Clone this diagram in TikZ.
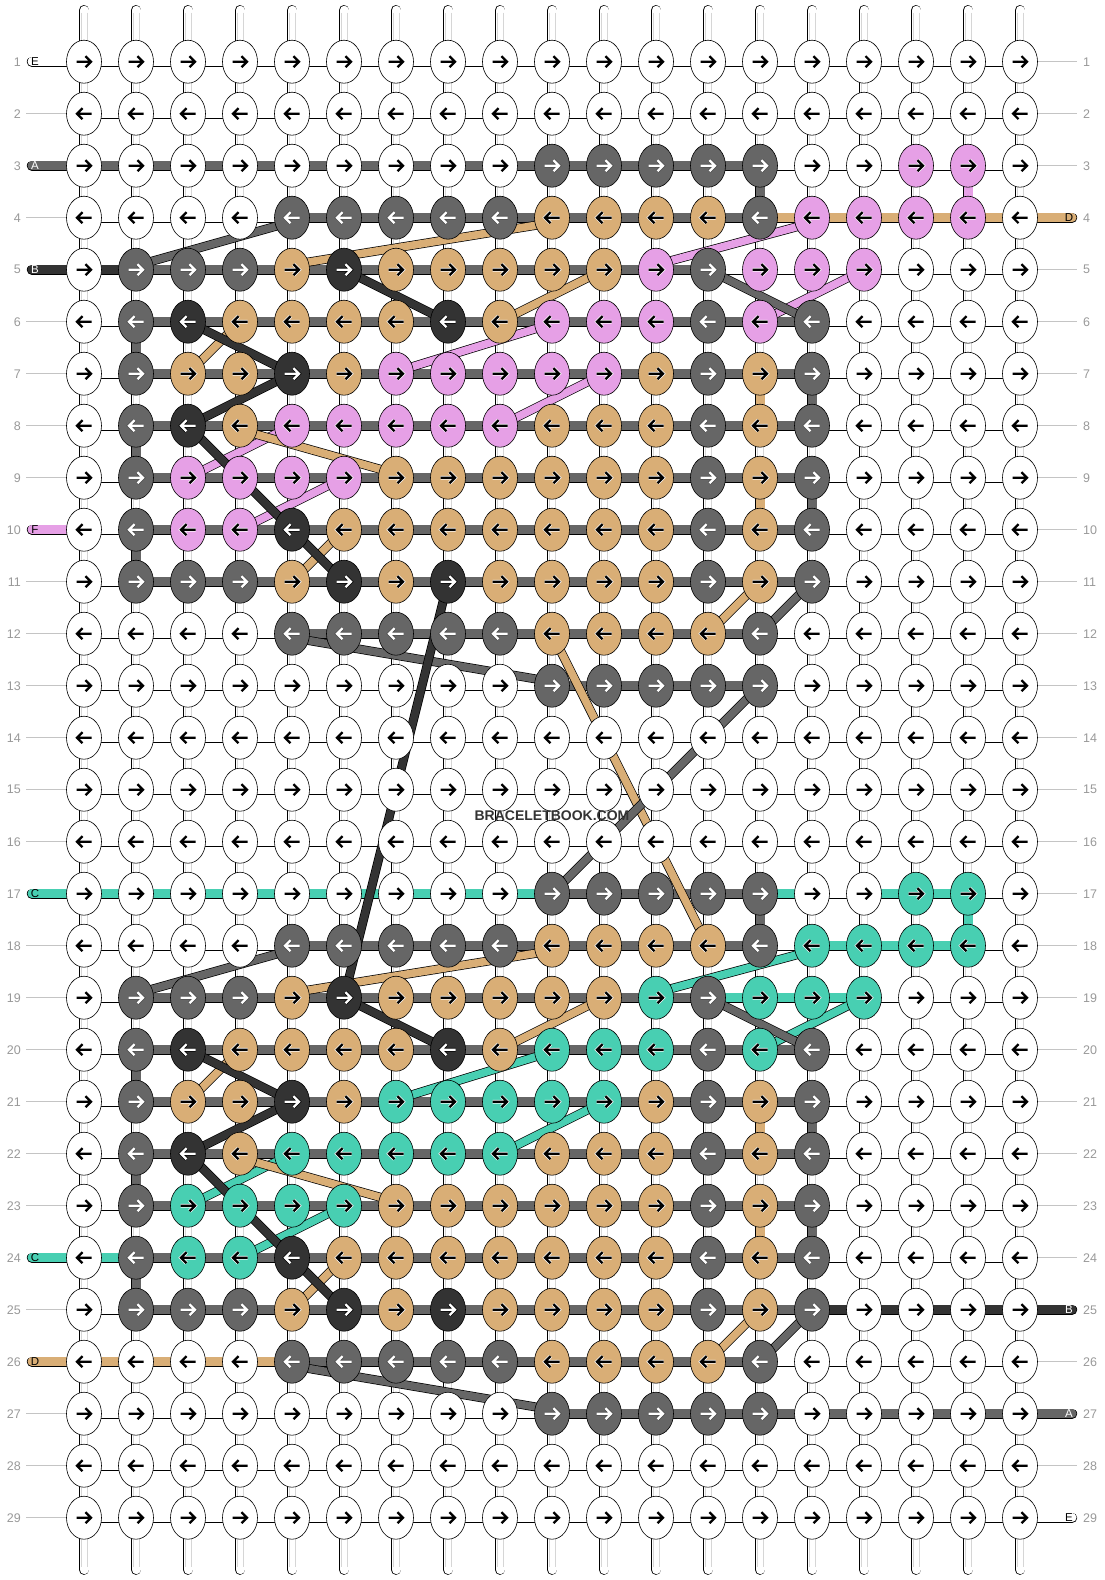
\documentclass[tikz,border=0pt]{standalone}
\usepackage{fontspec}
\setmainfont{Liberation Sans}
\usepackage{tikz}
\usetikzlibrary{calc,shapes.geometric}

\pgfdeclarelayer{strings}
\pgfsetlayers{strings,main}

\definecolor{cG}{HTML}{666666}
\definecolor{cK}{HTML}{333333}
\definecolor{cT}{HTML}{D9AE76}
\definecolor{cP}{HTML}{E6A0E6}
\definecolor{cC}{HTML}{48CFB2}
\definecolor{numgray}{HTML}{999999}
\definecolor{guidegray}{HTML}{C4C4C4}

\tikzset{
  ink/.store in=\knotink, ink=black,
  halo/.store in=\knothalo, halo=white,
  knot/.style={ellipse, draw=black, line width=0.6pt, inner sep=0pt,
    minimum width=35pt, minimum height=43pt},
  arrR/.style={path picture={
    \draw[draw=\knothalo, line width=3.6pt, shift={(path picture bounding box.center)}]
      (-7.5,0) -- (6.5,0) (1.5,-5.5) -- (7,0) -- (1.5,5.5);
    \draw[draw=\knotink, line width=2.2pt, shift={(path picture bounding box.center)}]
      (-7.5,0) -- (6.5,0) (1.5,-5.5) -- (7,0) -- (1.5,5.5);}},
  arrL/.style={path picture={
    \draw[draw=\knothalo, line width=3.6pt, shift={(path picture bounding box.center)}]
      (7.5,0) -- (-6.5,0) (-1.5,-5.5) -- (-7,0) -- (-1.5,5.5);
    \draw[draw=\knotink, line width=2.2pt, shift={(path picture bounding box.center)}]
      (7.5,0) -- (-6.5,0) (-1.5,-5.5) -- (-7,0) -- (-1.5,5.5);}},
  kW/.style={knot, fill=white, ink=black, halo=white},
  kG/.style={knot, fill=cG, ink=white, halo=black!70},
  kK/.style={knot, fill=cK, ink=white, halo=black},
  kT/.style={knot, fill=cT, ink=black, halo=white},
  kP/.style={knot, fill=cP, ink=black, halo=white},
  kC/.style={knot, fill=cC, ink=black, halo=white},
  tube/.style={draw=black, line width=0.7pt, double=#1, double distance=9pt, line cap=round},
  strand/.style={draw=black, line width=0.7pt, double=#1, double distance=7.6pt},
  rownum/.style={text=numgray, font=\fontsize{12.5}{12.5}\selectfont, inner sep=0pt},
  endtag/.style={font=\fontsize{11.5}{11.5}\selectfont, inner sep=0pt},
}

\begin{document}
\begin{tikzpicture}[x=1pt,y=-1pt]
\useasboundingbox (0,0) rectangle (1104,1580);

% knots, row by row (odd rows right, even rows left)
\foreach \codes [count=\r] in {
  {W,W,W,W,W,W,W,W,W,W,W,W,W,W,W,W,W,W,W},
  {W,W,W,W,W,W,W,W,W,W,W,W,W,W,W,W,W,W,W},
  {W,W,W,W,W,W,W,W,W,G,G,G,G,G,W,W,P,P,W},
  {W,W,W,W,G,G,G,G,G,T,T,T,T,G,P,P,P,P,W},
  {W,G,G,G,T,K,T,T,T,T,T,P,G,P,P,P,W,W,W},
  {W,G,K,T,T,T,T,K,T,P,P,P,G,P,G,W,W,W,W},
  {W,G,T,T,K,T,P,P,P,P,P,T,G,T,G,W,W,W,W},
  {W,G,K,T,P,P,P,P,P,T,T,T,G,T,G,W,W,W,W},
  {W,G,P,P,P,P,T,T,T,T,T,T,G,T,G,W,W,W,W},
  {W,G,P,P,K,T,T,T,T,T,T,T,G,T,G,W,W,W,W},
  {W,G,G,G,T,K,T,K,T,T,T,T,G,T,G,W,W,W,W},
  {W,W,W,W,G,G,G,G,G,T,T,T,T,G,W,W,W,W,W},
  {W,W,W,W,W,W,W,W,W,G,G,G,G,G,W,W,W,W,W},
  {W,W,W,W,W,W,W,W,W,W,W,W,W,W,W,W,W,W,W},
  {W,W,W,W,W,W,W,W,W,W,W,W,W,W,W,W,W,W,W},
  {W,W,W,W,W,W,W,W,W,W,W,W,W,W,W,W,W,W,W},
  {W,W,W,W,W,W,W,W,W,G,G,G,G,G,W,W,C,C,W},
  {W,W,W,W,G,G,G,G,G,T,T,T,T,G,C,C,C,C,W},
  {W,G,G,G,T,K,T,T,T,T,T,C,G,C,C,C,W,W,W},
  {W,G,K,T,T,T,T,K,T,C,C,C,G,C,G,W,W,W,W},
  {W,G,T,T,K,T,C,C,C,C,C,T,G,T,G,W,W,W,W},
  {W,G,K,T,C,C,C,C,C,T,T,T,G,T,G,W,W,W,W},
  {W,G,C,C,C,C,T,T,T,T,T,T,G,T,G,W,W,W,W},
  {W,G,C,C,K,T,T,T,T,T,T,T,G,T,G,W,W,W,W},
  {W,G,G,G,T,K,T,K,T,T,T,T,G,T,G,W,W,W,W},
  {W,W,W,W,G,G,G,G,G,T,T,T,T,G,W,W,W,W,W},
  {W,W,W,W,W,W,W,W,W,G,G,G,G,G,W,W,W,W,W},
  {W,W,W,W,W,W,W,W,W,W,W,W,W,W,W,W,W,W,W},
  {W,W,W,W,W,W,W,W,W,W,W,W,W,W,W,W,W,W,W}}{
  \ifodd\r \def\way{R}\else \def\way{L}\fi
  \foreach \c [count=\j] in \codes
    \node[k\c, arr\way] (k\r-\j) at ({32+52*\j},{9.7+52*\r}) {};
  \coordinate (k\r-0) at (32,{9.7+52*\r});
  \coordinate (k\r-20) at (1072,{9.7+52*\r});
}

\begin{pgfonlayer}{strings}
  \fill[white] (0,0) rectangle (1104,1580);
  % row numbers
  \foreach \r in {1,...,29}{
    \node[rownum, anchor=east] (n\r-l) at ($(k\r-0)+(-11,0)$) {\r};
    \node[rownum, anchor=west] (n\r-r) at ($(k\r-20)+(11,0)$) {\r};
  }
  \foreach \r in {2,4,6,7,8,9,11,12,13,14,15,16,18,19,20,21,22,23,25,27,28,29}
    \draw[guidegray, line width=0.8pt] ($(k\r-0)+(-6,0)$) -- (k\r-1.center);
  \foreach \r in {1,2,3,5,6,7,8,9,10,11,12,13,14,15,16,17,18,19,20,21,22,23,24,26,28}
    \draw[guidegray, line width=0.8pt] (k\r-19.center) -- ($(k\r-20)+(5,0)$);
  % warp strings
  \foreach \j in {1,...,19}{
    \draw[tube=white] ($(k1-\j.center)+(0,-51.5)$) -- ($(k29-\j.center)+(0,52)$);
    \draw[black!16, line width=0.45pt] ($(k1-\j.center)+(-2.8,-49)$) -- ($(k29-\j.center)+(-2.8,49)$)
      ($(k1-\j.center)+(2.8,-49)$) -- ($(k29-\j.center)+(2.8,49)$);
  }
  % weft rows
  \foreach \r in {1,...,29}
    \draw[tube=white, line cap=butt] (k\r-1.center) -- (k\r-19.center);
  \foreach \r/\a/\b/\col in {1/0/1/white, 3/0/14/cG, 4/5/14/cG, 4/14/20/cT,
      5/0/2/cK, 5/2/13/cG, 6/2/15/cG, 7/2/15/cG, 8/2/15/cG, 9/2/15/cG,
      10/0/1/cP, 10/2/15/cG, 11/2/15/cG, 12/5/14/cG, 13/10/14/cG,
      17/0/10/cC, 17/10/14/cG, 17/14/15/cC, 17/16/18/cC, 18/5/14/cG, 18/15/18/cC,
      19/2/13/cG, 19/13/16/cC, 20/2/15/cG, 21/2/15/cG, 22/2/15/cG, 23/2/15/cG,
      24/0/2/cC, 24/2/15/cG, 25/2/15/cG, 25/15/20/cK, 26/0/5/cT, 26/5/14/cG,
      27/10/20/cG, 29/19/20/white}
    \draw[tube=\col] (k\r-\a.center) -- (k\r-\b.center);
  \foreach \j/\a/\b/\col in {14/3/4/cG, 18/3/4/cP, 2/6/7/cG, 2/8/9/cG, 2/10/11/cG,
      14/7/8/cT, 14/9/10/cT, 15/7/8/cG, 15/9/10/cG,
      14/17/18/cG, 18/17/18/cC, 2/20/21/cG, 2/22/23/cG, 2/24/25/cG,
      14/21/22/cT, 14/23/24/cT, 15/21/22/cG, 15/23/24/cG}
    \draw[tube=\col] (k\a-\j.center) -- (k\b-\j.center);
  % string ends
  \foreach \r/\t/\ink in {1/E/black, 3/A/white, 5/B/white, 10/F/black, 17/C/black, 24/C/black, 26/D/black}
    \node[endtag, text=\ink] (e\r-l) at ($(k\r-0)+(3,0)$) {\t};
  \foreach \r/\t/\ink in {4/D/black, 25/B/white, 27/A/white, 29/E/black}
    \node[endtag, text=\ink] (e\r-r) at ($(k\r-20)+(-3,0)$) {\t};
  % strands between knots
  \foreach \s/\xc in {0/cP,14/cC}{
    \colorlet{cX}{\xc}
    \foreach \ra/\ca/\rb/\cb/\col/\off in {4/15/5/12/cX/5, 5/16/6/14/cX/0, 6/10/7/7/cX/2,
        7/11/8/9/cX/0, 8/5/9/3/cX/0, 9/6/10/4/cX/0,
        4/10/5/5/cT/5, 5/11/6/9/cT/0, 6/4/7/3/cT/0, 8/4/9/7/cT/4, 10/6/11/5/cT/0, 11/14/12/13/cT/0,
        4/5/5/2/cG/4, 5/13/6/15/cG/0, 11/15/12/14/cG/0, 12/5/13/10/cG/4,
        5/6/6/8/cK/0, 6/3/7/5/cK/0, 7/5/8/3/cK/0, 8/3/10/5/cK/0, 10/5/11/6/cK/0}{
      \pgfmathtruncatemacro\ru{\ra+\s}
      \pgfmathtruncatemacro\rv{\rb+\s}
      \draw[strand=\col] ($(k\ru-\ca.center)+(0,\off)$) -- ($(k\rv-\cb.center)+(0,-\off)$);
    }
  }
  \draw[strand=cT] (k12-10.center) -- (k18-13.center);
  \draw[strand=cG] (k13-14.center) -- (k17-10.center);
  \draw[strand=cK] (k11-8.center) -- (k19-6.center);
\end{pgfonlayer}

\node[font=\bfseries\fontsize{14}{14}\selectfont, text=cK] (mark) at (552,816) {BRACELETBOOK.COM};
\end{tikzpicture}
\end{document}
